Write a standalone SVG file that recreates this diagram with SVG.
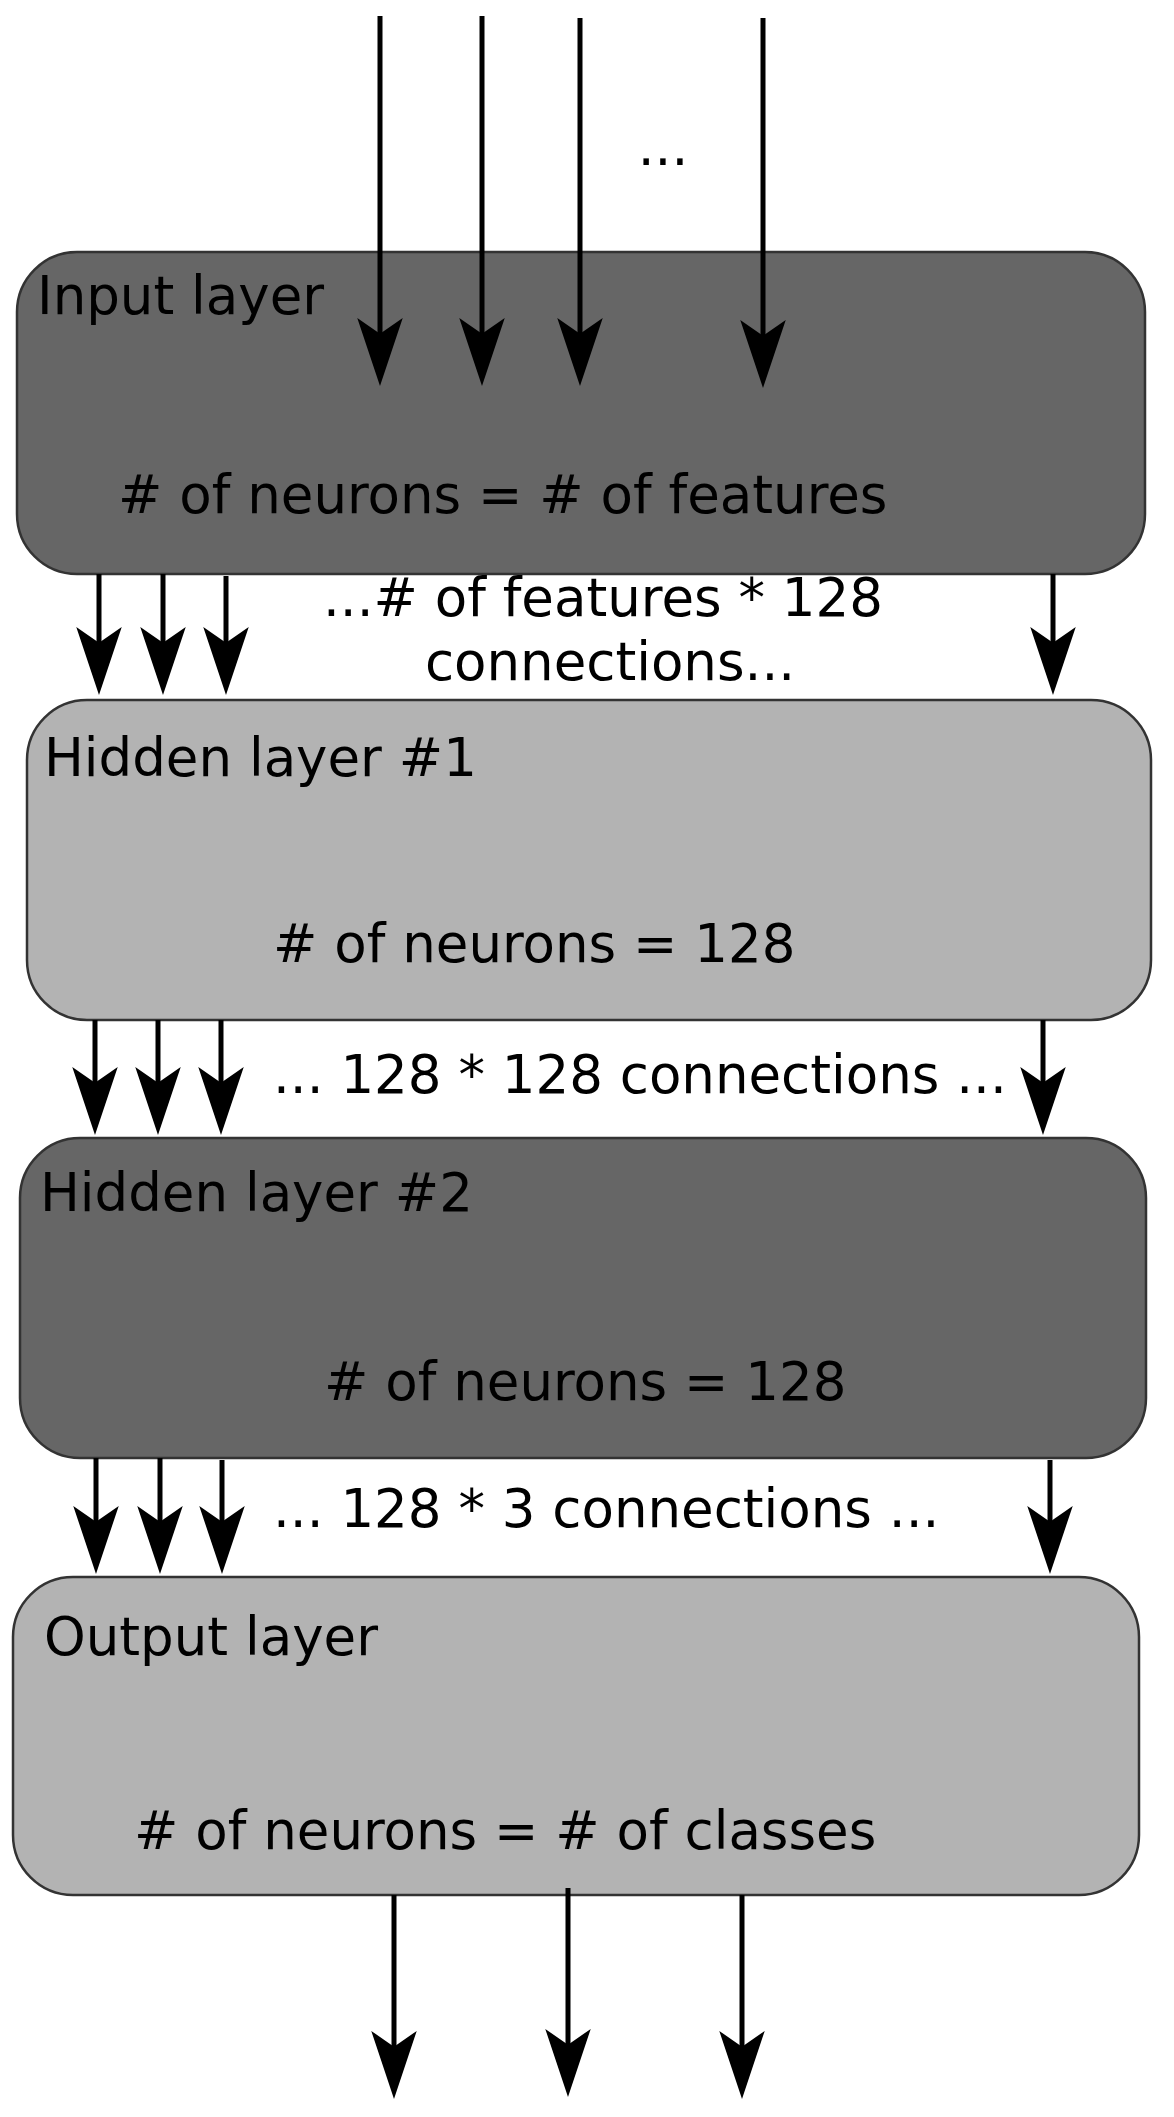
<svg xmlns="http://www.w3.org/2000/svg" width="1174" height="2117" viewBox="0 0 1174 2117">
<defs>
<style>
.dark{fill:#666666;stroke:#333333;stroke-width:2.5}
.light{fill:#b3b3b3;stroke:#333333;stroke-width:2.5}
text{font-family:"DejaVu Sans",Verdana,sans-serif;font-size:53px;fill:#000}
.c line{stroke:#000;stroke-width:5;marker-end:url(#ah)}
</style>
<marker id="ah" markerUnits="userSpaceOnUse" markerWidth="80" markerHeight="50" viewBox="-56 -22 66 44" refX="0" refY="0" orient="auto">
<path d="M8,0 L-52,-20 L-38,0 L-52,20 Z" fill="#000"/>
</marker>
</defs>
<rect width="1174" height="2117" fill="#fff"/>
<g id="input"><rect class="dark" x="17" y="252" width="1128" height="322" rx="60"/>
<text x="37" y="314">Input layer</text><text x="118" y="513">#  of neurons = # of features</text></g>
<g id="hidden1"><rect class="light" x="27" y="700" width="1124" height="320" rx="60"/>
<text x="44" y="776">Hidden layer #1</text><text x="273" y="962">#  of neurons = 128</text></g>
<g id="hidden2"><rect class="dark" x="20" y="1138" width="1126" height="320" rx="60"/>
<text x="40" y="1211">Hidden layer #2</text><text x="324" y="1400">#  of neurons = 128</text></g>
<g id="output"><rect class="light" x="13" y="1577" width="1126" height="318" rx="60"/>
<text x="44" y="1655">Output layer</text><text x="134" y="1849">#  of neurons = # of classes</text></g>
<g id="labels">
<text x="663" y="165" text-anchor="middle">...</text>
<text x="603" y="616" text-anchor="middle">...# of features * 128</text>
<text x="610" y="680" text-anchor="middle">connections...</text>
<text x="273" y="1093">... 128 * 128 connections ...</text>
<text x="273" y="1527">... 128 * 3 connections ...</text>
</g>
<g id="connectors" class="c">
<line x1="380" y1="16" x2="380" y2="377"/><line x1="482" y1="16" x2="482" y2="377"/>
<line x1="580" y1="18" x2="580" y2="377"/><line x1="763" y1="18" x2="763" y2="379"/>
<line x1="99" y1="574" x2="99" y2="686"/><line x1="163" y1="574" x2="163" y2="686"/>
<line x1="226" y1="576" x2="226" y2="686"/><line x1="1053" y1="574" x2="1053" y2="686"/>
<line x1="95" y1="1020" x2="95" y2="1126"/><line x1="158" y1="1020" x2="158" y2="1126"/>
<line x1="221" y1="1020" x2="221" y2="1126"/><line x1="1043" y1="1020" x2="1043" y2="1126"/>
<line x1="96" y1="1458" x2="96" y2="1565"/><line x1="160" y1="1458" x2="160" y2="1565"/>
<line x1="222" y1="1460" x2="222" y2="1565"/><line x1="1050" y1="1460" x2="1050" y2="1565"/>
<line x1="394" y1="1895" x2="394" y2="2090"/><line x1="568" y1="1888" x2="568" y2="2088"/>
<line x1="742" y1="1895" x2="742" y2="2090"/>
</g>
</svg>
